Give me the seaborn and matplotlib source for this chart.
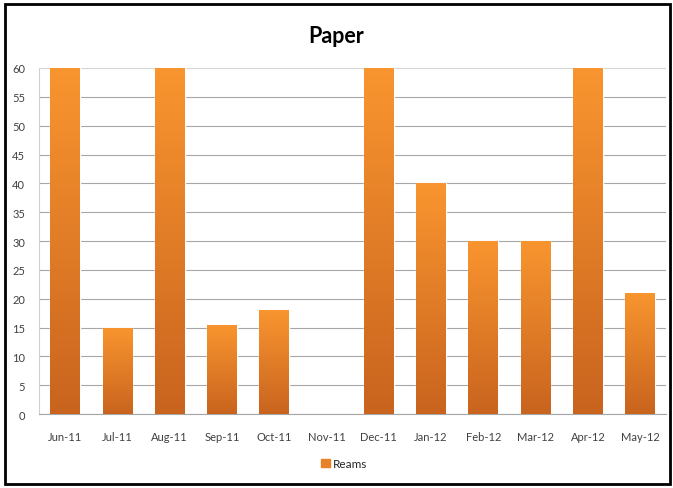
import numpy as np
import pandas as pd
import seaborn as sns
from matplotlib import pyplot as plt
from matplotlib.colors import LinearSegmentedColormap
from matplotlib.patches import Rectangle

months = ['Jun-11', 'Jul-11', 'Aug-11', 'Sep-11', 'Oct-11', 'Nov-11',
          'Dec-11', 'Jan-12', 'Feb-12', 'Mar-12', 'Apr-12', 'May-12']
reams = [60, 15, 60, 15.5, 18, 0, 60, 40, 30, 30, 60, 21]

data = pd.DataFrame({'Month': months, 'Reams': reams})

sns.set_style('white')
plt.rcParams['font.family'] = ['Lato', 'DejaVu Sans']

fig = plt.figure(figsize=(6.73, 4.89), dpi=100)
ax = fig.add_axes([0.058, 0.151, 0.932, 0.708])

sns.barplot(data=data, x='Month', y='Reams', color='#E8822A', width=0.57,
            saturation=1, ax=ax, zorder=2)

# per-bar vertical gradient, like the Excel fill
grad = LinearSegmentedColormap.from_list('orange', ['#C9641F', '#F9952F'])
for bar in ax.patches:
    h = bar.get_height()
    if h <= 0:
        continue
    x0 = bar.get_x()
    w = bar.get_width()
    img = ax.imshow(np.linspace(0, 1, 100).reshape(-1, 1), cmap=grad,
                    origin='lower', aspect='auto',
                    extent=[x0, x0 + w, 0, h], zorder=3)
    img.set_clip_path(bar)

ax.set_xlim(-0.5, len(months) - 0.5)
ax.set_ylim(0, 60)
ax.set_yticks(range(0, 61, 5))
ax.yaxis.grid(True, color='#A6A6A6', linewidth=0.8, zorder=0)
ax.yaxis.get_gridlines()[-1].set_color('#D4D4D4')
ax.set_axisbelow(True)
ax.set_xlabel('')
ax.set_ylabel('')
ax.tick_params(axis='both', labelsize=8, colors='#404040', length=0)
ax.tick_params(axis='x', pad=12)
ax.tick_params(axis='y', pad=10)
for s in ['top', 'right']:
    ax.spines[s].set_visible(False)
ax.spines['left'].set_color('#D0D0D0')
ax.spines['bottom'].set_color('#A6A6A6')

fig.text(0.5, 0.925, 'Paper', ha='center', va='center', fontsize=15.5,
         fontweight='bold', color='black')

handle = Rectangle((0, 0), 1, 1, color='#E8822A')
fig.legend([handle], ['Reams'], loc='center', bbox_to_anchor=(0.512, 0.05),
           frameon=False, fontsize=8.5, handlelength=0.7, handleheight=0.7,
           handletextpad=0.3)

fig.patches.append(Rectangle((0.008, 0.008), 0.988, 0.982, transform=fig.transFigure,
                             fill=False, edgecolor='black', linewidth=2))

fig.savefig('out.png', dpi=100)
